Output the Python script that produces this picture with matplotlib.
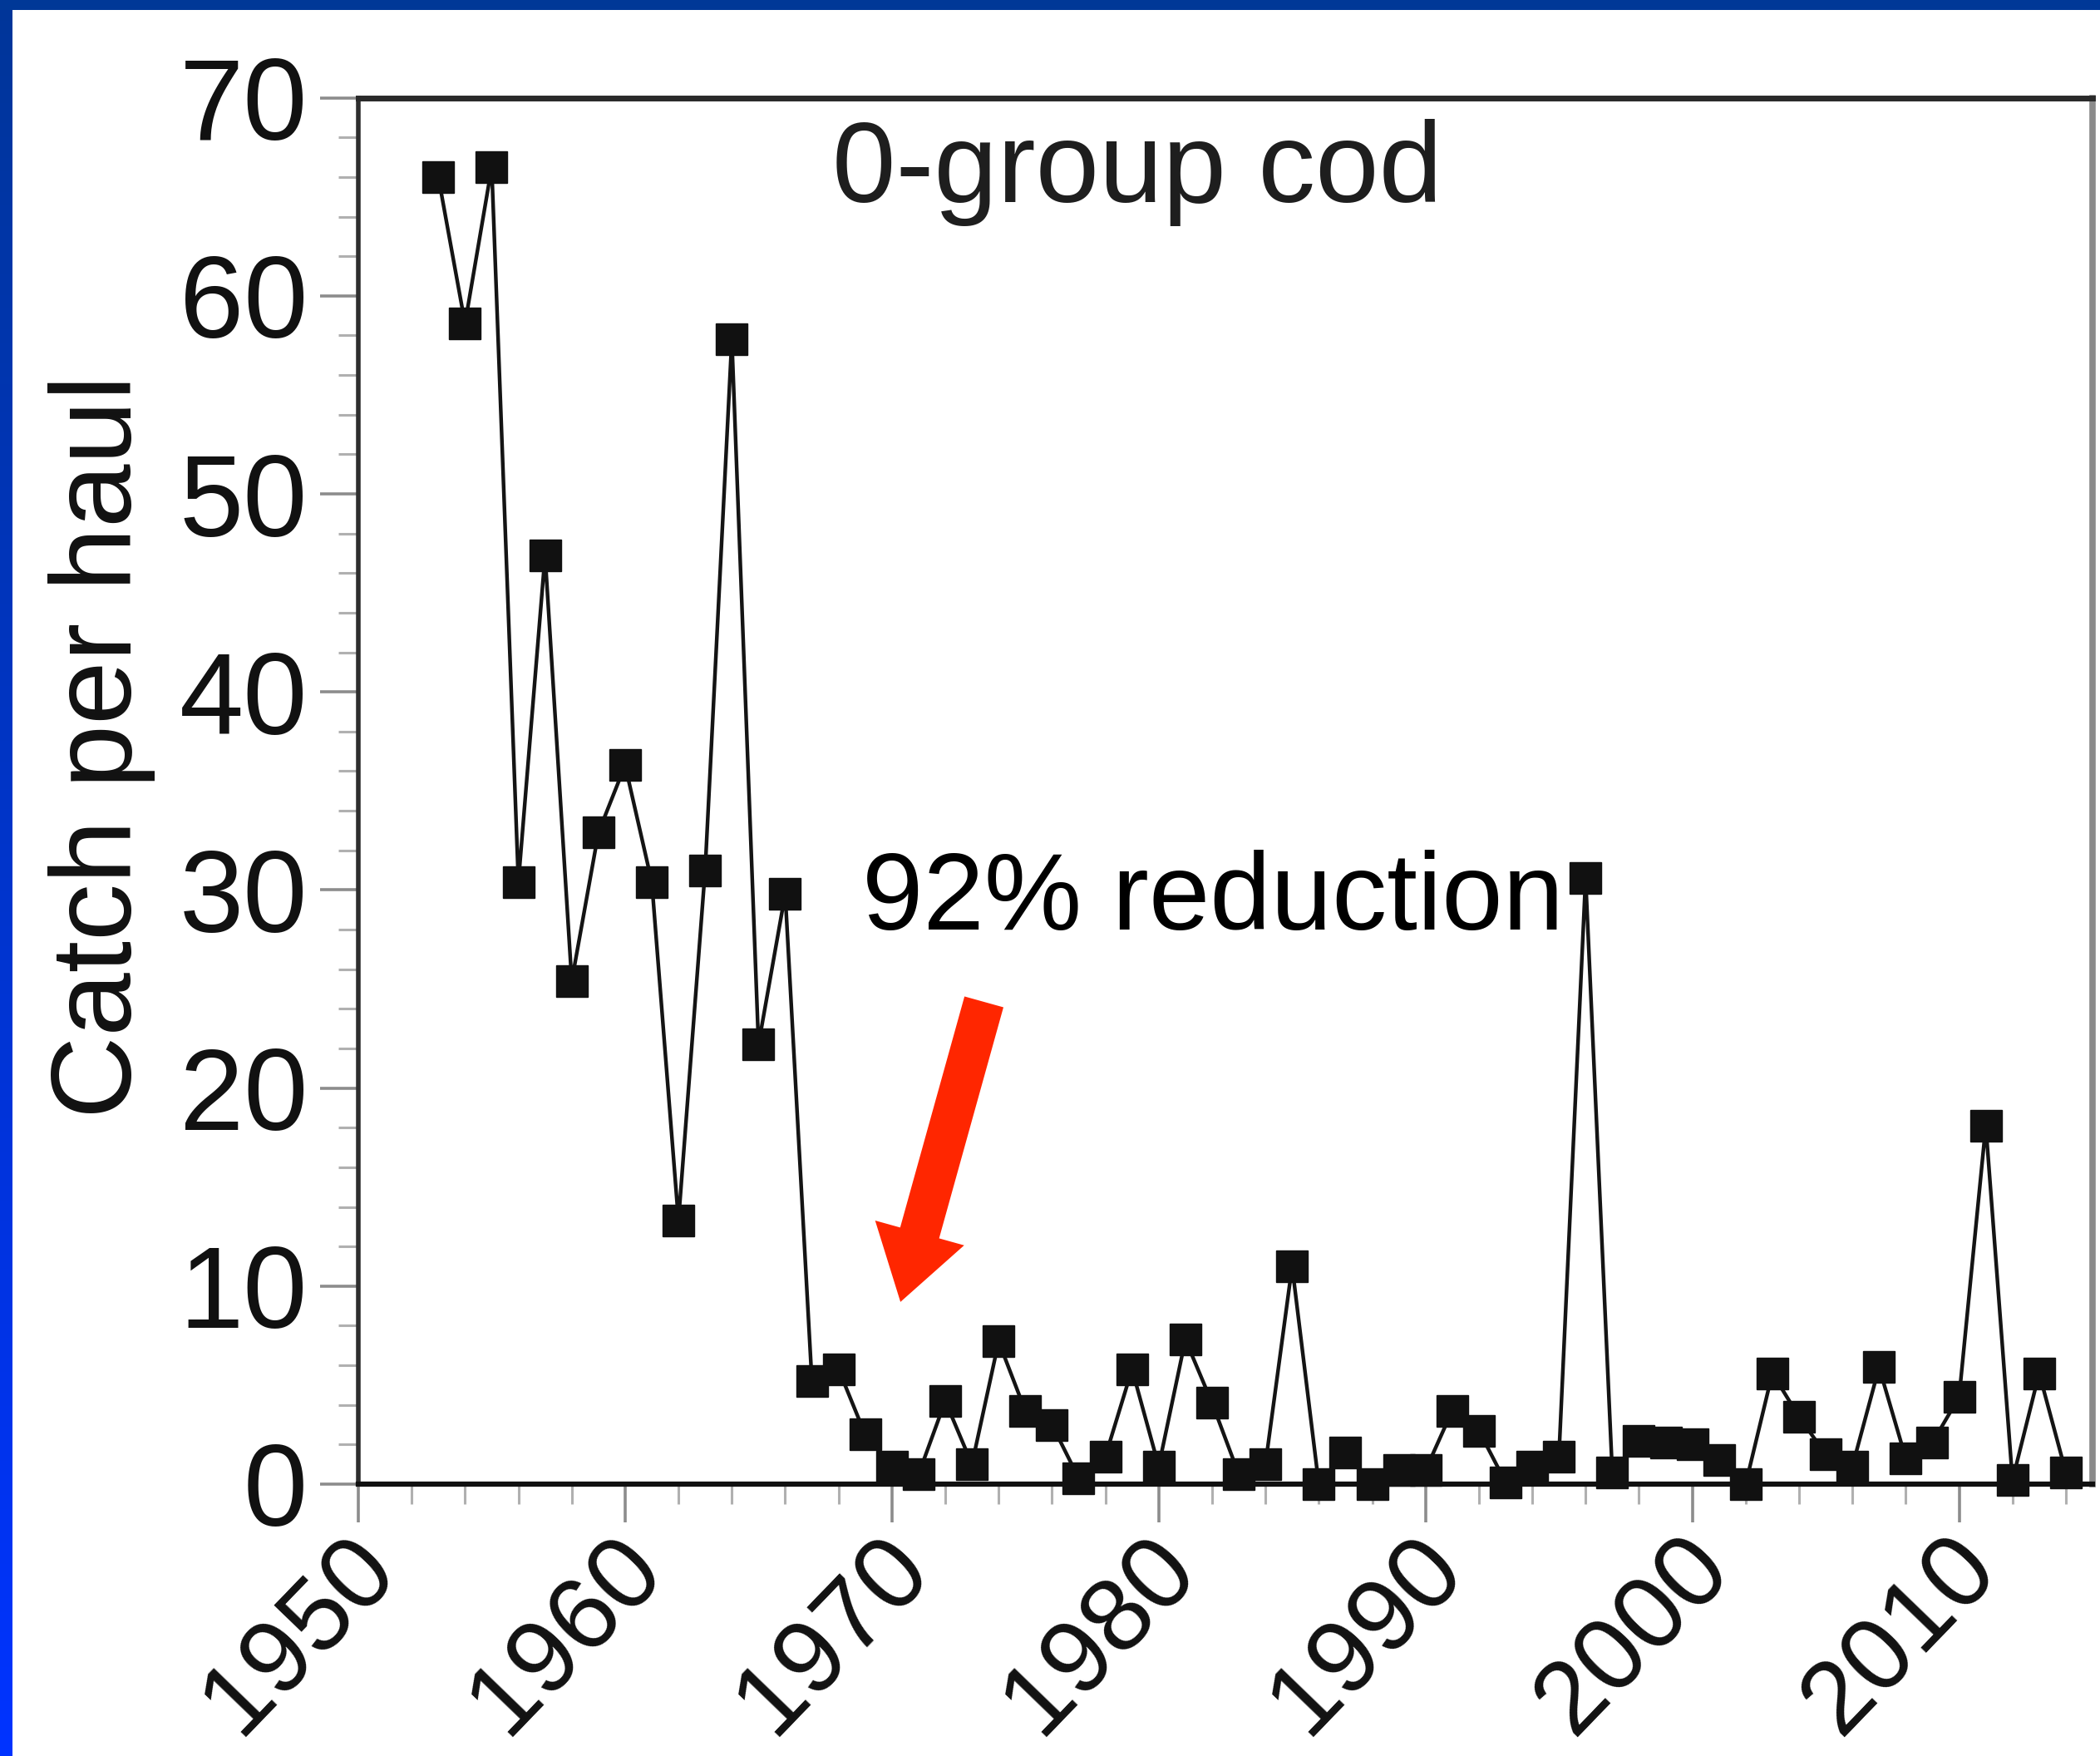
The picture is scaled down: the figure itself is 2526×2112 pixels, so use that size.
import numpy as np
import matplotlib
matplotlib.use("Agg")
import matplotlib.pyplot as plt
from matplotlib.patches import FancyArrowPatch, Rectangle
from matplotlib.ticker import MultipleLocator
from matplotlib.transforms import ScaledTranslation

# ---- data -------------------------------------------------------------
years = list(range(1953, 2015))
catch = [66.0, 58.6, 66.5, 30.4, 46.9, 25.4, 32.9, 36.3, 30.4, 13.3,
         31.0, 57.8, 22.2, 29.8, 5.2, 5.8, 2.5, 0.9, 0.5, 4.2,
         1.0, 7.2, 3.7, 3.0, 0.3, 1.4, 5.8, 0.9, 7.3, 4.1,
         0.5, 1.0, 11.0, 0.0, 1.6, 0.0, 0.7, 0.7, 3.7, 2.7,
         0.1, 0.9, 1.4, 30.6, 0.6, 2.2, 2.1, 2.0, 1.2, 0.0,
         5.6, 3.4, 1.5, 0.9, 5.9, 1.3, 2.1, 4.4, 18.1, 0.2,
         5.6, 0.6]
x_ticks = [1950, 1960, 1970, 1980, 1990, 2000, 2010]
x_tick_labels = ["1950", "1960", "1970", "1980", "1990", "2000", "2010"]
y_ticks = [0, 10, 20, 30, 40, 50, 60, 70]
panel_title = "0-group cod"
y_title = "Catch per haul"
note_text = "92% reduction"
arrow_from = (1973.45, 24.35)
arrow_to = (1970.32, 9.2)

# ---- figure -----------------------------------------------------------
W, H, DPI = 2526, 2112, 100
plt.rcParams['font.family'] = ['Liberation Sans', 'DejaVu Sans']
fig = plt.figure(figsize=(W / DPI, H / DPI), dpi=DPI, facecolor='white')


def frame(x0, y0, w, h):
    """Pixel box (top-left origin) -> figure fraction rect."""
    return [x0 / W, 1 - (y0 + h) / H, w / W, h / H]


# slide-style blue frame: solid top strip, graded strip on the left
fig.patches.append(Rectangle((0, 1 - 12 / H), 1, 12 / H, transform=fig.transFigure,
                             facecolor='#003897', edgecolor='none', zorder=0))
band = fig.add_axes(frame(0, 0, 15, H))
grad = np.linspace(0, 1, 256)[:, None, None]
top_rgb = np.array([0.0, 0.21, 0.60])
bot_rgb = np.array([0.0, 0.20, 1.00])
band.imshow(top_rgb * (1 - grad) + bot_rgb * grad, aspect='auto', extent=[0, 1, 0, 1])
band.axis('off')

ax = fig.add_axes(frame(431, 117.6, 2086, 1667.4))
ax.set_facecolor('white')

ax.plot(years, catch, color='#141414', lw=3.2, marker='s', ms=27,
        mfc='#111111', mec='#111111', clip_on=False, zorder=5)

ax.set_xlim(1950, 2015)
ax.set_ylim(0, 70)
ax.set_xticks(x_ticks, x_tick_labels)
ax.set_yticks(y_ticks)
ax.xaxis.set_minor_locator(MultipleLocator(2))
ax.yaxis.set_minor_locator(MultipleLocator(2))

ax.tick_params(which='major', direction='out', length=33, width=2.6,
               color='#8c8c8c', labelsize=100, labelcolor='#111111')
ax.tick_params(which='minor', direction='out', length=17, width=2.2, color='#b0b0b0')
ax.tick_params(axis='y', which='major', pad=11)
ax.tick_params(axis='x', which='major', pad=-3, labelrotation=46, labelsize=90)

shift = ScaledTranslation(68 / DPI, 0, fig.dpi_scale_trans)
for lab in ax.get_xticklabels():
    lab.set_ha('right')
    lab.set_transform(lab.get_transform() + shift)

ax.spines['bottom'].set_linewidth(4.5)
ax.spines['bottom'].set_color('#111111')
ax.spines['left'].set_linewidth(4.0)
ax.spines['left'].set_color('#2e2e2e')
ax.spines['top'].set_linewidth(5.0)
ax.spines['top'].set_color('#2a2a2a')
ax.spines['right'].set_linewidth(5.5)
ax.spines['right'].set_color('#8a8a8a')

ax.text(1967.76, 64.74, panel_title, fontsize=99, color='#1e1e1e',
        ha='left', va='baseline', zorder=4)
ax.text(1968.88, 28.0, note_text, fontsize=95, color='black',
        ha='left', va='baseline', zorder=6)

ax.add_patch(FancyArrowPatch(arrow_from, arrow_to,
                             arrowstyle='simple,head_length=62,head_width=80,tail_width=35',
                             mutation_scale=1, shrinkA=0, shrinkB=0,
                             facecolor='#ff2600', edgecolor='none', zorder=7))

fig.text(158 / W, 1 - 898 / H, y_title, rotation=90, rotation_mode='anchor',
         ha='center', va='baseline', fontsize=99, color='#111111')

fig.savefig('out.png', dpi=DPI, facecolor='white')
